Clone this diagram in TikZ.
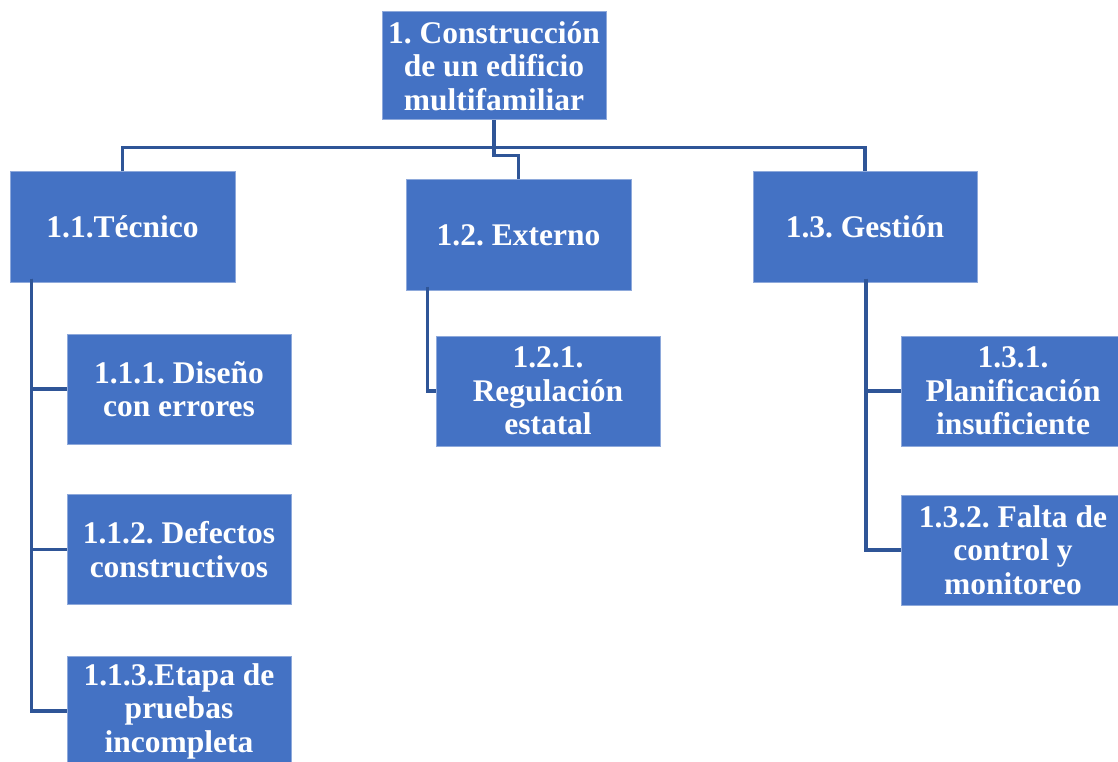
\documentclass[tikz,border=0pt]{standalone}
\usepackage{fontspec}
\setmainfont{Liberation Serif}
\definecolor{boxfill}{HTML}{4472C4}
\definecolor{boxedge}{HTML}{8EA9DB}
\definecolor{linkblue}{HTML}{2F5597}
\begin{document}
\frenchspacing
\begin{tikzpicture}[x=1pt,y=-1pt,
  box/.style={draw=boxedge, line width=1, fill=boxfill, text=white,
    font=\bfseries\fontsize{31.5}{33.5}\selectfont, align=center,
    minimum width=224, minimum height=110, inner sep=0, anchor=center},
  link/.style={draw=linkblue, line width=3.2}]
\useasboundingbox[fill=white] (0,0) rectangle (1118,762);

% top level
\node[box, minimum height=108] (root) at (494,66) {1. Construcción\\de un edificio\\multifamiliar};

% second level
\node[box, minimum width=225] (tec) at (122.5,227) {1.1.Técnico};
\node[box, minimum width=225] (ext) at (518.5,235) {1.2. Externo};
\node[box] (ges) at (865,227) {1.3. Gestión};

% third level
\node[box] (t1) at (179,389) {1.1.1. Diseño\\con errores};
\node[box] (t2) at (179,549.5) {1.1.2. Defectos\\constructivos};
\node[box] (t3) at (179,711) {1.1.3.Etapa de\\pruebas\\incompleta};
\node[box] (e1) at (548,391) {1.2.1.\\Regulación\\estatal};
\node[box] (g1) at (1013,391) {1.3.1.\\Planificación\\insuficiente};
\node[box] (g2) at (1013,550) {1.3.2. Falta de\\control y\\monitoreo};

% connectors from the root
\draw[link] (tec.north) -- ++(0,-24) -| (ges.north);
\draw[link] (root.south) -- ++(0,35) -| (ext.north);

% branch under 1.1
\draw[link] ([xshift=22,yshift=4]tec.south west) coordinate (tb) |- (t3.west);
\draw[link] (tb) |- (t1.west);
\draw[link] (tb) |- (t2.west);

% branch under 1.2
\draw[link] ([xshift=22,yshift=4]ext.south west) |- (e1.west);

% branch under 1.3
\draw[link] ([xshift=1,yshift=4]ges.south) coordinate (gb) |- (g2.west);
\draw[link] (gb) |- (g1.west);
\end{tikzpicture}
\end{document}
